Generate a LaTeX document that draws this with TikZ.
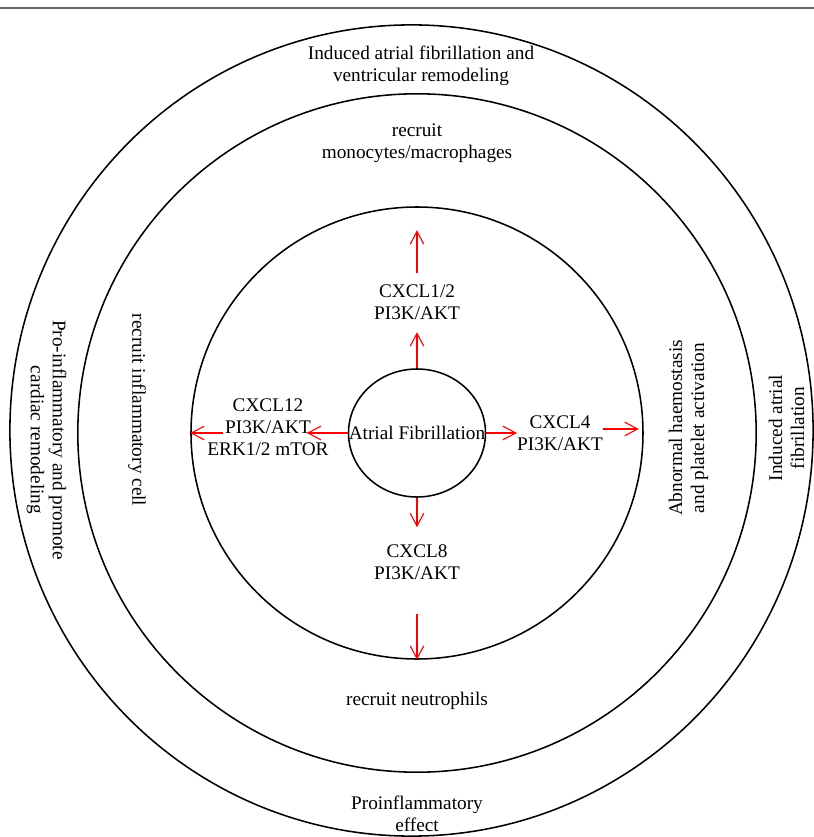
\documentclass[tikz,border=0pt]{standalone}
\usepackage{fontspec}
\setmainfont{Liberation Serif}
\usetikzlibrary{arrows.meta}
\usetikzlibrary{shapes.geometric}

\begin{document}
\begin{tikzpicture}[
    lbl/.style={align=center, font=\fontsize{13.7}{15.6}\selectfont, inner sep=0},
    flow/.style={draw=red, line width=0.8pt, -{Straight Barb[length=0.32cm, width=0.34cm]}},
    ring/.style={line width=1.1pt}
  ]
    \useasboundingbox (-10.425,-10.1) rectangle (9.925,10.825);
    \draw[black!60, line width=1.2pt] (-10.425,10.625) -- (9.925,10.625);
    \draw[ring] (-0.1375,0.0625) ellipse[x radius=10.04, y radius=10.14];
    \draw[ring] (0,0) circle[radius=8.48];
    \node[ring, draw, circle, minimum size=11.3cm, inner sep=0] (inner) at (0,0) {};
    \node[ring, draw, ellipse, minimum width=3.425cm, minimum height=3.2cm, inner sep=0, font=\fontsize{13.7}{15.6}\selectfont] (af) at (0,0) {\makebox[0pt]{Atrial Fibrillation}};

    \node[lbl, inner ysep=0.3cm] (cxclup) at (0,3.2625) {CXCL1/2\\PI3K/AKT};
    \node[lbl, inner ysep=0.3cm] (cxcldown) at (0,-3.225) {CXCL8\\PI3K/AKT};
    \node[lbl] (cxclleft) at (-3.725,0.15) {CXCL12\\PI3K/AKT\\ERK1/2 mTOR};
    \node[lbl] (cxclright) at (3.575,0) {CXCL4\\PI3K/AKT};

    \draw[flow] (af.north) -- (cxclup.south);
    \draw[flow, shorten >=0.6cm] (cxclup.north) -- (inner.north);
    \draw[flow, shorten >=0.125cm] (af.south) -- (cxcldown.north);
    \draw[flow, shorten <=0.55cm] (cxcldown.south) -- (inner.south);
    \draw[flow, shorten >=-0.55cm] (af.west) -- (af.west -| cxclleft.east);
    \draw[flow, shorten <=-0.4cm] (af.west -| cxclleft.west) -- (inner.west);
    \draw[flow] (af.east) -- (af.east -| cxclright.west);
    \draw[flow, shorten >=0.125cm] ([yshift=0.1cm]cxclright.east) -- ([yshift=0.1cm]inner.east);

    \node[lbl] (topouter) at (0.1,9.175) {Induced atrial fibrillation and\\ventricular remodeling};
    \node[lbl] (topmid) at (0,7.25) {recruit\\monocytes/macrophages};
    \node[lbl] (botmid) at (0,-6.7) {recruit neutrophils};
    \node[lbl] (botouter) at (0,-9.525) {Proinflammatory\\effect};
    \node[lbl, rotate=-90] (leftouter) at (-9.2625,-0.175) {Pro-inflammatory and promote\\cardiac remodeling};
    \node[lbl, rotate=-90] (leftmid) at (-7.0,0.575) {recruit inflammatory cell};
    \node[lbl, rotate=90] (rightmid) at (6.7875,0.125) {Abnormal haemostasis\\and platelet activation};
    \node[lbl, rotate=90] (rightouter) at (9.2375,0.125) {Induced atrial\\fibrillation};
\end{tikzpicture}
\end{document}
